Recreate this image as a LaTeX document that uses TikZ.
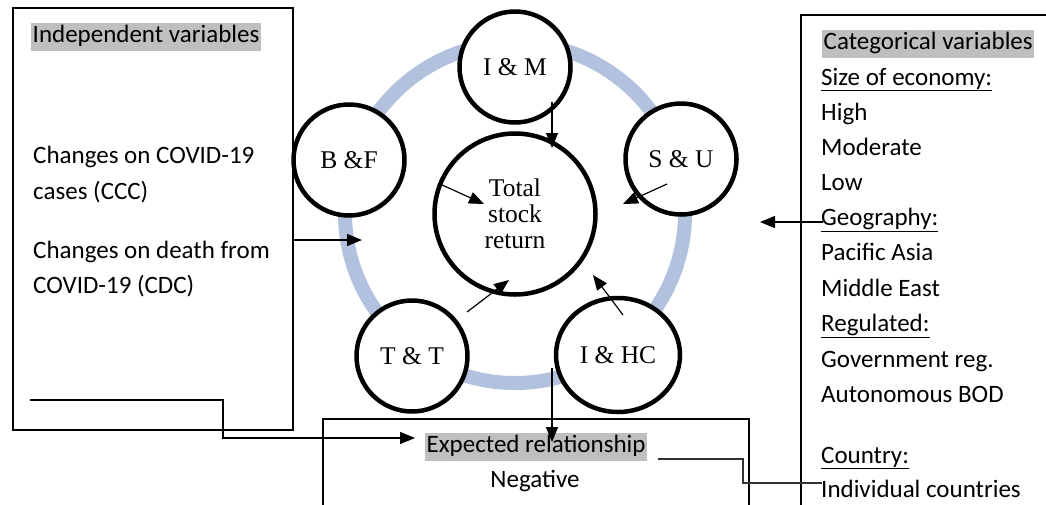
\documentclass[tikz,border=0pt]{standalone}
\usepackage{fontspec}
\setmainfont{Carlito}
\newfontfamily\timesf{Liberation Serif}
\usetikzlibrary{arrows.meta,shapes.geometric}
\definecolor{ringc}{RGB}{178,194,222}
\definecolor{hl}{RGB}{191,191,191}
\begin{document}
\begin{tikzpicture}[x=1pt,y=-1pt,
  box/.style={draw=black,line width=2.4pt,inner sep=0pt,anchor=north west},
  ball/.style={circle,draw=black,line width=4.5pt,fill=white,minimum size=111pt,inner sep=0pt,font=\timesf\fontsize{25.5}{26}\selectfont},
  txt/.style={anchor=base west,inner sep=0pt,font=\fontsize{25}{30}\selectfont},
  hltxt/.style={anchor=base west,fill=hl,inner xsep=1.5pt,inner ysep=0pt,text height=19.5pt,text depth=8.5pt,font=\fontsize{25}{30}\selectfont},
  arr/.style={line width=1.2pt,-{Triangle[length=15pt,width=12pt]}},
  thinline/.style={line width=1.2pt,draw=black!80}]
\clip (0,0) rectangle (1046,504);
\fill[white] (0,0) rectangle (1046,504);
% ring
\draw[ringc,line width=14pt] (515,213) circle[radius=170];
% boxes
\node[box,minimum width=280pt,minimum height=422pt] (left) at (12,7) {};
\node[box,minimum width=300pt,minimum height=500pt] (right) at (800,14) {};
\node[box,minimum width=426pt,minimum height=120pt] (bottom) at (322,418) {};
% circles
\node[ball] (im) at (515,67) {I \& M};
\node[ball] (bf) at (349,160) {B \&F};
\node[ball] (su) at (681,159) {S \& U};
\node[ball] (tt) at (412,356) {T \& T};
\node[ball,ellipse,minimum width=124pt,minimum height=114pt] (ihc) at (618,355) {I \& HC};
\node[ball,minimum size=161pt,align=center] (tot) at (515,214) {Total\\stock\\return};
% left texts
\node[hltxt] (indep) at (31,42) {Independent variables};
\node[txt] (l1) at (33,163) {Changes on COVID-19};
\node[txt] (l2) at (33,199) {cases (CCC)};
\node[txt] (l3) at (33,258) {Changes on death from};
\node[txt] (l4) at (33,293) {COVID-19 (CDC)};
% right texts
\node[hltxt] (cat) at (822,49) {Categorical variables};
\node[txt] (r1) at (821,85) {\underline{Size of economy:}};
\node[txt] (r2) at (821,120) {High};
\node[txt] (r3) at (821,155) {Moderate};
\node[txt] (r4) at (821,190) {Low};
\node[txt] (r5) at (821,225) {\underline{Geography:}};
\node[txt] (r6) at (821,260) {Pacific Asia};
\node[txt] (r7) at (821,296) {Middle East};
\node[txt] (r8) at (821,331) {\underline{Regulated:}};
\node[txt] (r9) at (821,367) {Government reg.};
\node[txt] (r10) at (821,402) {Autonomous BOD};
\node[txt] (r11) at (821,463) {\underline{Country:}};
\node[txt] (r12) at (821,497) {Individual countries};
% bottom texts
\node[hltxt] (exp) at (425,452) {Expected relationship};
\node[txt,anchor=base] (neg) at (535,487) {Negative};
% connector coordinates
\coordinate (a1) at (362,240);
\coordinate (b0) at (30,400);
\coordinate (b1) at (415,438);
\coordinate (c0) at (552,102);
\coordinate (c1) at (552,148);
\coordinate (d0) at (440,184);
\coordinate (d1) at (484,204);
\coordinate (e0) at (667,184);
\coordinate (e1) at (623,204);
\coordinate (f0) at (467,312);
\coordinate (f1) at (509,280);
\coordinate (g0) at (623,315);
\coordinate (g1) at (593,275);
\coordinate (h0) at (552,368);
\coordinate (h1) at (552,442);
\coordinate (k0) at (823,222);
\coordinate (k1) at (760,222);
\coordinate (m0) at (658,459);
\coordinate (m1) at (822,483);
% connectors
\draw[arr] (left.east |- a1) -- (a1);
\draw[arr] (b0) -- (223,400) |- (b1);
\draw[arr] (c0) -- (c1);
\draw[arr] (d0) -- (d1);
\draw[arr] (e0) -- (e1);
\draw[arr] (f0) -- (f1);
\draw[arr] (g0) -- (g1);
\draw[arr] (h0) -- (h1);
\draw[arr] (k0) -- (k1);
\draw[thinline] (m0) -- (743,459) |- (m1);
\end{tikzpicture}
\end{document}
